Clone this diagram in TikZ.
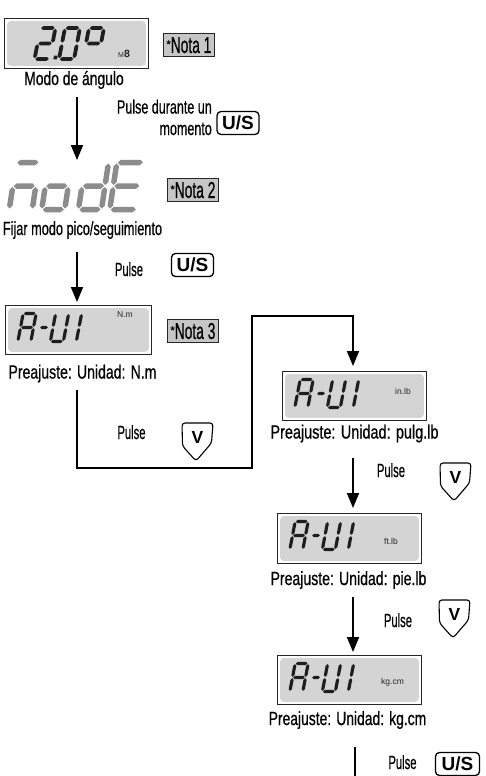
\documentclass[tikz,border=0pt]{standalone}
\usepackage{graphicx}
\usepackage{fontspec}
\setmainfont{Liberation Sans}
\newfontfamily\labf{Liberation Sans}[FakeBold=0.7]
\usetikzlibrary{arrows.meta}
\definecolor{lcdgrey}{HTML}{D4D4D4}
\definecolor{notegrey}{HTML}{C6C6C6}
\definecolor{seggrey}{HTML}{8C8C8C}
\definecolor{segdark}{HTML}{1E1E1E}
% seven-segment helpers
\newcommand\sgH[3]{\fill ({#1},{#3}) -- ({#1+\segT/2},{#3-\segT/2}) -- ({#2-\segT/2},{#3-\segT/2}) -- ({#2},{#3}) -- ({#2-\segT/2},{#3+\segT/2}) -- ({#1+\segT/2},{#3+\segT/2}) -- cycle;}
\newcommand\sgV[3]{\fill ({#3},{#1}) -- ({#3+\segT/2},{#1+\segT/2}) -- ({#3+\segT/2},{#2-\segT/2}) -- ({#3},{#2}) -- ({#3-\segT/2},{#2-\segT/2}) -- ({#3-\segT/2},{#1+\segT/2}) -- cycle;}
\def\sga{\sgH{-\segW/2+\segG}{\segW/2-\segG}{-\segH/2}}
\def\sgb{\sgV{-\segH/2+\segG}{-\segG}{\segW/2}}
\def\sgc{\sgV{\segG}{\segH/2-\segG}{\segW/2}}
\def\sgd{\sgH{-\segW/2+\segG}{\segW/2-\segG}{\segH/2}}
\def\sge{\sgV{\segG}{\segH/2-\segG}{-\segW/2}}
\def\sgf{\sgV{-\segH/2+\segG}{-\segG}{-\segW/2}}
\def\sgg{\sgH{-\segW/2+\segG}{\segW/2-\segG}{0}}
\newcommand\lcdchar[3]{\begin{scope}[shift={(#1,#2)},xslant=\segS]
  \foreach \s in {#3}{\csname sg\s\endcsname}
\end{scope}}
\newcommand\sx[2]{\scalebox{#1}[1]{#2}}
\newcommand\lcdpanel[1]{\fill[lcdgrey, rounded corners=4pt] ([xshift=3pt,yshift=-3pt]#1.north west) rectangle ([xshift=-3pt,yshift=3pt]#1.south east);}
\newcommand\aui[1]{\begin{scope}[shift={(#1.north west)},color=segdark]
  \def\segW{13}\def\segH{28}\def\segT{3.2}\def\segG{0.7}\def\segS{0.19}
  \lcdchar{22}{22.5}{a,b,c,e,f,g}
  \lcdchar{54.5}{22.5}{b,c,d,e,f}
  \lcdchar{67.5}{22.5}{b,c}
  \def\segW{9}\lcdchar{39}{22.5}{g}
\end{scope}}
\newcommand\shield[1]{\draw[line width=1.1pt, rounded corners=3pt] (#1) -- ++(31,0) -- ++(-1.5,20) -- ++(-15.5,18) -- ++(-13.5,-15) -- cycle;}
\begin{document}
\begin{tikzpicture}[x=1pt,y=-1pt,
  lbl/.style={inner sep=0pt, anchor=base, font=\labf\fontsize{19}{21}\selectfont},
  lcdbox/.style={draw=black!85, line width=0.9pt, fill=white, minimum width=144pt, minimum height=50pt, anchor=north west, inner sep=0pt},
  notebox/.style={draw=black!85, line width=0.9pt, fill=notegrey, minimum width=51pt, minimum height=23pt, inner sep=0pt, anchor=north west, text height=16pt, text depth=0pt, font=\labf},
  usbtn/.style={draw=black, line width=1.3pt, rounded corners=4pt, minimum width=42pt, minimum height=23pt, inner sep=0pt, text height=13.6pt, text depth=0pt, font=\fontsize{19}{20}\selectfont\bfseries},
  vtxt/.style={inner sep=0pt, text height=12.5pt, text depth=0pt, font=\fontsize{17.5}{18}\selectfont\bfseries},
  flow/.style={line width=1.8pt, -{Triangle[length=15pt,width=12pt]}},
  unit/.style={font=\fontsize{8.5}{9}\selectfont, text=black!85, inner sep=0pt}
]
\path[use as bounding box, fill=white] (0,0) rectangle (486,776);

% ---------- display 1: angle mode ----------
\node[lcdbox] (b1) at (4,18) {};
\lcdpanel{b1}
\begin{scope}[color=segdark]
  \def\segW{15}\def\segH{31}\def\segT{3.8}\def\segG{0.8}\def\segS{0.19}
  \lcdchar{45}{43.5}{a,b,g,e,d}
  \lcdchar{69.5}{43.5}{a,b,c,d,e,f}
  \lcdchar{93.5}{43.5}{a,b,f,g}
  \begin{scope}[shift={(55.5,57.5)},xslant=0.19]
    \fill (-1.8,-1.8) rectangle (1.8,1.8);
  \end{scope}
\end{scope}
\node[inner sep=0pt, anchor=base west, text=black!85] (m8) at (118,58) {{\fontsize{7}{7}\selectfont M}{\fontsize{10.5}{10.5}\selectfont\bfseries 8}};
\node[notebox] (n1) at (163,33) {\raisebox{5pt}{\fontsize{11}{11}\selectfont *}\sx{0.60}{\fontsize{23}{23}\selectfont Nota 1}};
\node[lbl] (t1) at (74,85) {\sx{0.73}{Modo de ángulo}};

\coordinate (a1s) at (77,97);
\coordinate (a1e) at (77,160);
\draw[flow] (a1s) -- (a1e);
\node[lbl, anchor=base east] (p1a) at (212,113.5) {\sx{0.66}{Pulse durante un}};
\node[lbl, anchor=base east] (p1b) at (212,135) {\sx{0.66}{momento}};
\node[usbtn] (u1) at (238,123) {U/S};

% ---------- display 2: mode ----------
\begin{scope}[color=seggrey]
  \def\segW{23}\def\segH{47}\def\segT{5.5}\def\segG{1}\def\segS{0.15}
  \lcdchar{24.3}{186}{a,g,e,c}
  \lcdchar{56.8}{186}{g,c,d,e}
  \lcdchar{93.5}{186}{b,g,c,d,e}
  \def\segW{27}
  \lcdchar{126.8}{186}{a,f,g,e,d}
\end{scope}
\node[notebox] (n2) at (167,178) {\raisebox{5pt}{\fontsize{11}{11}\selectfont *}\sx{0.60}{\fontsize{23}{23}\selectfont Nota 2}};
\node[lbl] (t2) at (82.5,235) {\sx{0.67}{Fijar modo pico/seguimiento}};

\coordinate (a2s) at (77,252);
\node[lbl] (p2) at (129,276) {\sx{0.59}{Pulse}};
\node[usbtn] (u2) at (192.5,265) {U/S};

% ---------- display 3: N.m ----------
\node[lcdbox, minimum width=146pt, minimum height=49pt] (b3) at (5,305) {};
\lcdpanel{b3}
\aui{b3}
\node[unit] (un3) at ([xshift=120pt,yshift=-10pt]b3.north west) {N.m};
\node[notebox] (n3) at (167,319) {\raisebox{5pt}{\fontsize{11}{11}\selectfont *}\sx{0.60}{\fontsize{23}{23}\selectfont Nota 3}};
\node[lbl] (t3) at (82.5,378.5) {\sx{0.74}{Preajuste: Unidad: N.m}};
\draw[flow, shorten >=3pt] (a2s) -- (a2s |- b3.north);

% ---------- loop to display 4 ----------
\node[lbl] (p3) at (131.5,439) {\sx{0.59}{Pulse}};
\coordinate (l0) at (77,390);
\coordinate (l1) at (252,468);
\coordinate (l2) at (353,316);
\shield{182,423}
\node[vtxt] (v1) at (197.5,437) {V};

% ---------- display 4: in.lb ----------
\node[lcdbox, minimum height=49pt] (b4) at (282,371) {};
\lcdpanel{b4}
\aui{b4}
\node[unit] (un4) at ([xshift=121pt,yshift=-20pt]b4.north west) {in.lb};
\node[lbl] (t4) at (354.5,438.5) {\sx{0.76}{Preajuste: Unidad: pulg.lb}};
\draw[flow, shorten >=5pt] (l0) |- (l1) |- (l2) -- (l2 |- b4.north);

\coordinate (a4s) at (353,458);
\node[lbl] (p4) at (391,477) {\sx{0.59}{Pulse}};
\shield{440,463}
\node[vtxt] (v2) at (455.5,477) {V};

% ---------- display 5: ft.lb ----------
\node[lcdbox] (b5) at (277,513) {};
\lcdpanel{b5}
\aui{b5}
\node[unit] (un5) at ([xshift=114pt,yshift=-28pt]b5.north west) {ft.lb};
\node[lbl] (t5) at (348.5,585) {\sx{0.74}{Preajuste: Unidad: pie.lb}};
\draw[flow, shorten >=5pt] (a4s) -- (a4s |- b5.north);

\coordinate (a5s) at (353,597);
\node[lbl] (p5) at (398,627) {\sx{0.59}{Pulse}};
\shield{439,600}
\node[vtxt] (v3) at (454.5,614) {V};

% ---------- display 6: kg.cm ----------
\node[lcdbox, minimum height=49pt] (b6) at (277,655) {};
\lcdpanel{b6}
\aui{b6}
\node[unit] (un6) at ([xshift=115.5pt,yshift=-27pt]b6.north west) {kg.cm};
\node[lbl] (t6) at (347.5,725) {\sx{0.73}{Preajuste: Unidad: kg.cm}};
\draw[flow, shorten >=3pt] (a5s) -- (a5s |- b6.north);

\coordinate (a6s) at (355,747);
\coordinate (a6e) at (355,800);
\draw[flow] (a6s) -- (a6e);
\node[lbl] (p6) at (402.5,769) {\sx{0.59}{Pulse}};
\node[usbtn, minimum width=44pt] (u3) at (457.5,764) {U/S};
\end{tikzpicture}
\end{document}
